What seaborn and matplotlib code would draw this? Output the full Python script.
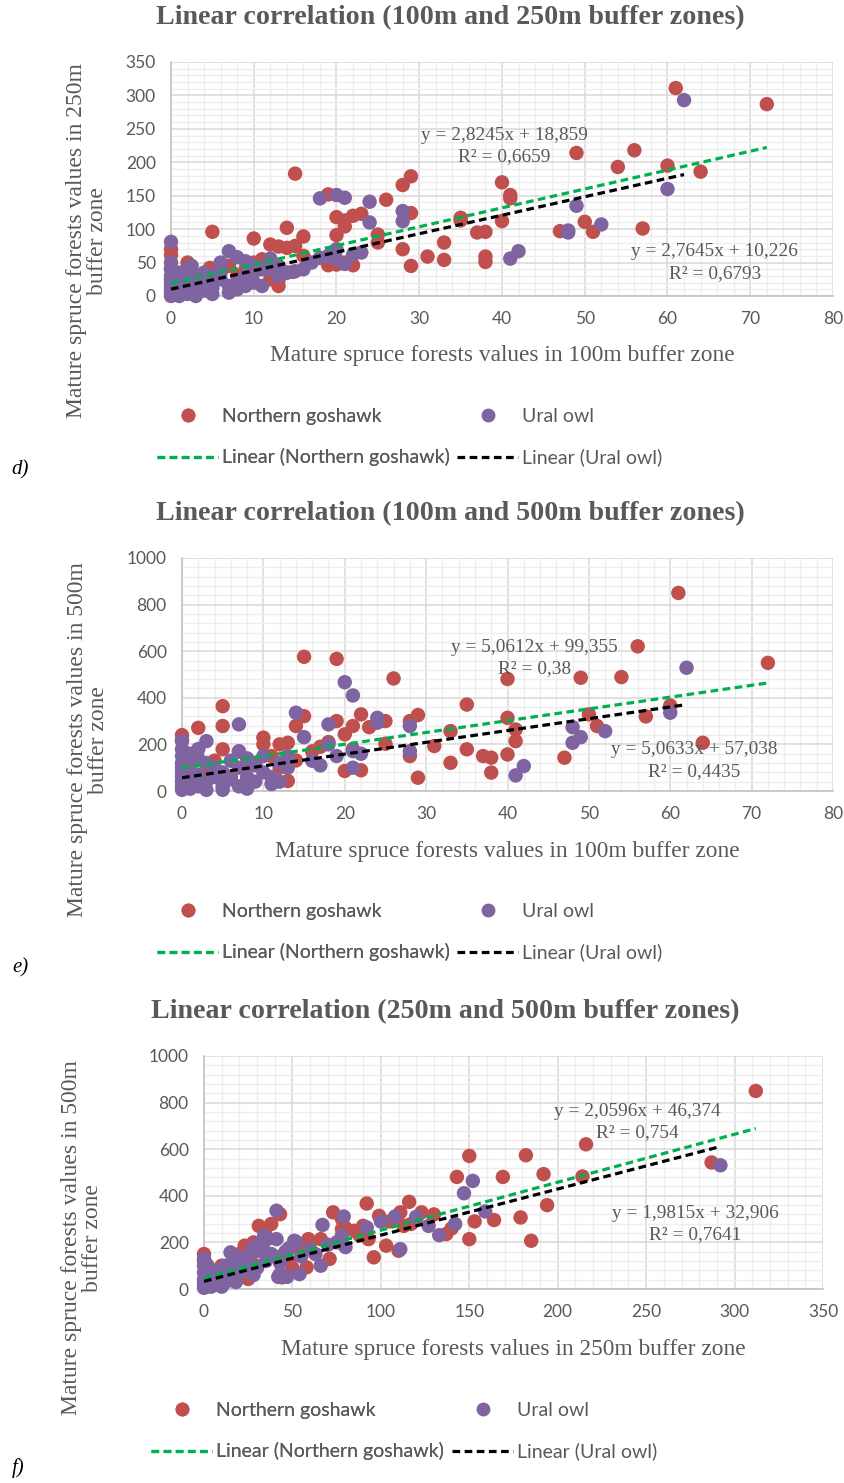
import numpy as np
import pandas as pd
import matplotlib
matplotlib.use("Agg")
import matplotlib.pyplot as plt
import seaborn as sns
from matplotlib.lines import Line2D
from matplotlib.ticker import MultipleLocator

# ---------------- data ----------------
# Panel d: 100m (x) vs 250m (y)
d_gos_x = [61, 72, 49, 56, 54, 60, 64, 40, 41, 41, 29, 28, 15, 19, 26, 29, 20, 21, 22, 23, 21, 20, 25, 25,
           35, 35, 40, 37, 38, 47, 50, 51, 57, 14, 16, 10, 5, 12, 13, 14, 15, 28, 33, 31, 33, 38, 38, 29,
           19, 20, 22, 0, 0, 0, 2, 12, 13, 13, 8, 9, 4, 3, 6, 1, 10, 11, 16, 21, 14, 7, 4.7, 9.8]
d_gos_y = [311, 287, 214, 218, 193, 195, 186, 170, 151, 146, 179, 166, 183, 152, 144, 124, 118, 113, 120, 123, 104, 91, 92, 80,
           117, 113, 112, 95, 96, 97, 111, 96, 101, 102, 89, 86, 96, 77, 74, 72, 75, 70, 80, 59, 54, 59, 51, 45,
           46, 47, 46, 70, 61, 41, 50, 25, 24, 15, 30, 40, 25, 20, 35, 30, 50, 55, 60, 50, 35, 45, 42, 44]
d_owl_x = [62, 60, 49, 48, 48, 52, 42, 41, 28, 28, 24, 24, 18, 20, 21, 18, 20, 21, 22, 15, 12, 12, 13, 7,
           8, 9, 10, 6, 0, 0, 0, 0, 0, 0, 0, 0, 0, 0, 1, 1, 1, 2, 2, 2, 2, 3, 3, 3, 4, 4, 4, 5, 5, 6,
           7, 7, 8, 8, 9, 9, 10, 10, 11, 11, 13, 14, 16, 17, 19, 20, 23, 5, 6, 1, 3, 2.5, 14.7]
d_owl_y = [293, 160, 135, 95, 98, 107, 67, 56, 127, 112, 141, 110, 146, 151, 147, 57, 70, 48, 62, 37, 40, 56, 30, 67,
           58, 52, 45, 50, 81, 50, 40, 30, 25, 20, 15, 10, 5, 0, 35, 20, 8, 40, 25, 10, 3, 30, 15, 5, 35, 20, 8, 12, 3, 25,
           15, 5, 20, 10, 30, 15, 35, 20, 15, 40, 45, 35, 40, 50, 60, 55, 65, 30, 40, 0, 0, 45, 36]

# Panel e: 100m (x) vs 500m (y)
e_gos_x = [61, 72, 56, 49, 54, 40, 26, 15, 19, 35, 60, 50, 57, 51, 64, 40, 41, 41, 40, 47, 35, 33, 31, 29,
           29, 28, 28, 37, 38, 38, 33, 25, 25, 22, 21, 23, 20, 19, 20, 22, 15, 14, 14, 12, 13, 10, 10, 5,
           5, 5, 2, 0, 0, 13, 8, 9, 3, 6, 11, 16, 17, 18, 21, 4, 7, 1, 2, 12]
e_gos_y = [850, 550, 621, 486, 489, 481, 483, 576, 567, 371, 367, 329, 320, 279, 207, 314, 264, 214, 157, 143, 179, 121, 193, 57,
           326, 300, 150, 150, 143, 79, 257, 203, 300, 329, 279, 274, 243, 300, 86, 89, 321, 279, 131, 200, 207, 229, 200, 364,
           279, 179, 271, 240, 220, 43, 100, 120, 90, 60, 150, 170, 190, 210, 180, 130, 170, 100, 50, 100]
e_owl_x = [62, 60, 52, 48, 48, 49, 42, 41, 20, 21, 14, 15, 18, 18, 24, 24, 28, 28, 21, 21, 7, 3, 0, 13,
           0, 0, 0, 0, 0, 0, 0, 0, 0, 1, 1, 1, 1, 1, 2, 2, 2, 2, 3, 3, 3, 4, 4, 5, 5, 5, 6, 6, 7, 7, 7,
           8, 8, 8, 9, 9, 10, 10, 11, 11, 12, 12, 13, 16, 17, 19, 22]
e_owl_y = [529, 336, 257, 274, 207, 231, 107, 67, 467, 410, 336, 231, 286, 200, 314, 293, 279, 171, 171, 100, 286, 214, 214, 100,
           180, 150, 120, 100, 80, 60, 40, 20, 5, 160, 130, 90, 50, 10, 180, 140, 70, 20, 120, 40, 5, 100, 60, 80, 20, 5, 130, 50, 170, 100, 20,
           140, 60, 10, 110, 40, 80, 150, 60, 30, 40, 120, 150, 130, 110, 150, 160]

# Panel f: 250m (x) vs 500m (y)
f_gos_x = [312, 287, 216, 182, 150, 192, 214, 169, 143, 194, 179, 185, 164, 153, 150, 137, 116, 123, 92, 99, 73, 78, 78, 90,
           93, 96, 103, 110, 111, 113, 117, 71, 59, 66, 58, 44, 29, 31, 38, 43, 35, 23, 20, 25, 0, 0, 5, 10,
           15, 8, 12, 18, 26, 28, 33, 40, 48, 52, 60, 85, 88, 105, 120, 130, 140, 50, 22, 3, 2, 56, 80]
f_gos_y = [850, 543, 621, 574, 571, 493, 483, 481, 481, 360, 307, 207, 296, 290, 214, 236, 374, 329, 367, 314, 329, 300, 257, 271,
           214, 136, 186, 164, 329, 271, 279, 129, 214, 214, 93, 50, 100, 271, 279, 321, 229, 186, 150, 43, 150, 120, 80, 100,
           60, 50, 30, 120, 160, 200, 170, 140, 120, 180, 200, 250, 230, 290, 300, 320, 260, 90, 70, 40, 100, 180, 262]
f_owl_x = [292, 152, 147, 159, 142, 133, 127, 108, 111, 92, 79, 67, 66, 41, 41, 51, 54, 43, 34, 35, 15, 75, 78, 80,
           52, 46, 48, 43, 42, 47, 28, 32, 36, 29, 18, 16, 14, 20, 0, 0, 0, 0, 0, 0, 2, 3, 4, 6, 8, 10,
           12, 15, 20, 22, 25, 28, 30, 35, 38, 24, 8, 12, 5, 1, 18, 10, 55, 60, 63, 70, 100, 120]
f_owl_y = [531, 464, 411, 333, 279, 231, 271, 311, 171, 264, 311, 275, 100, 336, 214, 207, 64, 64, 229, 157, 157, 200, 230, 180,
           203, 160, 175, 112, 52, 52, 180, 200, 215, 160, 140, 110, 90, 120, 130, 100, 70, 40, 20, 5, 60, 30, 10, 40, 80, 60,
           30, 50, 70, 90, 110, 60, 90, 120, 150, 140, 20, 100, 70, 110, 30, 10, 140, 170, 150, 190, 290, 310]

# Excel trend line coefficients (slope, intercept) and R²
d_fit = {"gos": (2.8245, 18.859, 0.6659), "owl": (2.7645, 10.226, 0.6793)}
e_fit = {"gos": (5.0612, 99.355, 0.38), "owl": (5.0633, 57.038, 0.4435)}
f_fit = {"gos": (2.0596, 46.374, 0.754), "owl": (1.9815, 32.906, 0.7641)}

species = ["Northern goshawk", "Ural owl"]

# ---------------- style ----------------
sns.set_theme(style="white")
plt.rcParams['font.family'] = ['Liberation Serif', 'DejaVu Serif']

W, H = 845, 1483
fig = plt.figure(figsize=(W / 100, H / 100), dpi=100)

RED = '#C0504D'
PURPLE = '#8064A2'
GREEN = '#00B050'
GRAY = '#595959'
TICKFONT = 'Lato'


def fx(px):
    return px / W


def fy(py):
    return 1 - py / H


def fmt_num(v, nd):
    s = f"{v:.{nd}f}".rstrip('0').rstrip('.') if nd else f"{v}"
    return s.replace('.', ',')


def eq_text(slope, inter):
    return f"y = {fmt_num(slope, 4)}x + {fmt_num(inter, 3)}"


def r2_text(r2):
    return f"R² = {fmt_num(r2, 4)}"


panels = [
    dict(rect=(171, 62, 833, 296), xlim=(0, 80), ylim=(0, 350), xmaj=10, xmin=2, ymaj=50, ymin=10,
         gx=d_gos_x, gy=d_gos_y, ox=d_owl_x, oy=d_owl_y, fit=d_fit,
         title="Linear correlation (100m and 250m buffer zones)", title_xy=(450, 18),
         xlabel="Mature spruce forests values in 100m buffer zone", xlabel_y=355,
         ylabel="Mature spruce forests values in 250m\nbuffer zone", ylabel_xy=(87, 241),
         eq1=(40.3, 240, 208), eq2=(65.7, 66, 34),
         leg=(157, 457, 437), letter=("d)", 20, 470)),
    dict(rect=(182, 558, 833, 791), xlim=(0, 80), ylim=(0, 1000), xmaj=10, xmin=2, ymaj=200, ymin=40,
         gx=e_gos_x, gy=e_gos_y, ox=e_owl_x, oy=e_owl_y, fit=e_fit,
         title="Linear correlation (100m and 500m buffer zones)", title_xy=(450, 514),
         xlabel="Mature spruce forests values in 100m buffer zone", xlabel_y=852,
         ylabel="Mature spruce forests values in 500m\nbuffer zone", ylabel_xy=(88, 740),
         eq1=(43.3, 614, 524), eq2=(63, 176, 82),
         leg=(157, 457, 932), letter=("e)", 20, 968)),
    dict(rect=(204, 1056, 823, 1289), xlim=(0, 350), ylim=(0, 1000), xmaj=50, xmin=10, ymaj=200, ymin=40,
         gx=f_gos_x, gy=f_gos_y, ox=f_owl_x, oy=f_owl_y, fit=f_fit,
         title="Linear correlation (250m and 500m buffer zones)", title_xy=(445, 1012),
         xlabel="Mature spruce forests values in 250m buffer zone", xlabel_y=1350,
         ylabel="Mature spruce forests values in 500m\nbuffer zone", ylabel_xy=(82, 1238),
         eq1=(245, 760, 670), eq2=(277.6, 322, 232),
         leg=(151, 452, 1431), letter=("f)", 18, 1468)),
]

dash = (0, (2.4, 1.4))

for p in panels:
    l, t, r, b = p['rect']
    ax = fig.add_axes([fx(l), fy(b), (r - l) / W, (b - t) / H])
    df = pd.DataFrame({
        'x': list(p['gx']) + list(p['ox']),
        'y': list(p['gy']) + list(p['oy']),
        'sp': [species[0]] * len(p['gx']) + [species[1]] * len(p['ox']),
    })
    sns.scatterplot(data=df, x='x', y='y', hue='sp', hue_order=species,
                    palette=[RED, PURPLE], s=108, linewidth=0, alpha=1,
                    legend=False, ax=ax, zorder=3, clip_on=False)
    # trend lines
    for key, xs, col in (("gos", p['gx'], GREEN), ("owl", p['ox'], 'black')):
        sl, ic, _ = p['fit'][key]
        xr = np.array([min(xs), max(xs)], dtype=float)
        ax.plot(xr, sl * xr + ic, color=col, lw=2.3, ls=dash, zorder=4)

    ax.set_xlim(*p['xlim'])
    ax.set_ylim(*p['ylim'])
    ax.xaxis.set_major_locator(MultipleLocator(p['xmaj']))
    ax.xaxis.set_minor_locator(MultipleLocator(p['xmin']))
    ax.yaxis.set_major_locator(MultipleLocator(p['ymaj']))
    ax.yaxis.set_minor_locator(MultipleLocator(p['ymin']))
    ax.grid(which='major', color='#D9D9D9', lw=1.1)
    ax.grid(which='minor', color='#EEEEEE', lw=1.0)
    ax.set_axisbelow(True)
    for s in ('top', 'right'):
        ax.spines[s].set_visible(False)
    for s in ('left', 'bottom'):
        ax.spines[s].set_color('#BFBFBF')
        ax.spines[s].set_linewidth(1.1)
    ax.tick_params(which='major', length=5, width=1, color='#BFBFBF', direction='out',
                   labelsize=12.5, labelcolor=GRAY, labelfontfamily=TICKFONT, pad=6)
    ax.tick_params(which='minor', length=0)
    ax.set_xlabel('')
    ax.set_ylabel('')

    # equations
    eqsize = 13.9
    sl, ic, r2 = p['fit']['gos']
    ex, ey1, ey2 = p['eq1']
    ax.text(ex, ey1, eq_text(sl, ic), ha='center', va='center', fontsize=eqsize, color=GRAY, zorder=5)
    ax.text(ex, ey2, r2_text(r2), ha='center', va='center', fontsize=eqsize, color=GRAY, zorder=5)
    sl, ic, r2 = p['fit']['owl']
    ex, ey1, ey2 = p['eq2']
    ax.text(ex, ey1, eq_text(sl, ic), ha='center', va='center', fontsize=eqsize, color=GRAY, zorder=5)
    ax.text(ex, ey2, r2_text(r2), ha='center', va='center', fontsize=eqsize, color=GRAY, zorder=5)

    # title and labels
    tx, ty = p['title_xy']
    fig.text(fx(tx), fy(ty), p['title'], ha='center', va='center', fontsize=20.2,
             fontweight='bold', color=GRAY)
    fig.text(fx((l + r) / 2), fy(p['xlabel_y']), p['xlabel'], ha='center', va='center',
             fontsize=16.8, color=GRAY)
    yx, yy = p['ylabel_xy']
    fig.text(fx(yx), fy(yy), p['ylabel'], ha='center', va='center', rotation=90,
             multialignment='center', fontsize=17, color=GRAY, linespacing=1.0)

    # legend (two columns)
    c1, c2, cy = p['leg']
    h_g = Line2D([], [], ls='none', marker='o', ms=10, mfc=RED, mec='none')
    h_o = Line2D([], [], ls='none', marker='o', ms=10, mfc=PURPLE, mec='none')
    l_g = Line2D([], [], color=GREEN, lw=2.3, ls=dash)
    l_o = Line2D([], [], color='black', lw=2.3, ls=dash)
    common = dict(loc='center left', frameon=False, borderpad=0, borderaxespad=0,
                  handlelength=3.14, handletextpad=0.2, labelspacing=1.22,
                  prop={'family': TICKFONT, 'size': 14}, labelcolor=GRAY)
    leg1 = fig.legend([h_g, l_g], ['Northern goshawk', 'Linear (Northern goshawk)'],
                      bbox_to_anchor=(fx(c1), fy(cy)), **common)
    fig.add_artist(leg1)
    fig.legend([h_o, l_o], ['Ural owl', 'Linear (Ural owl)'],
               bbox_to_anchor=(fx(c2), fy(cy)), **common)

    lt, lx, lyy = p['letter']
    fig.text(fx(lx), fy(lyy), lt, ha='center', va='center', fontsize=15, style='italic', color='black')

fig.savefig('out.png', dpi=100)
